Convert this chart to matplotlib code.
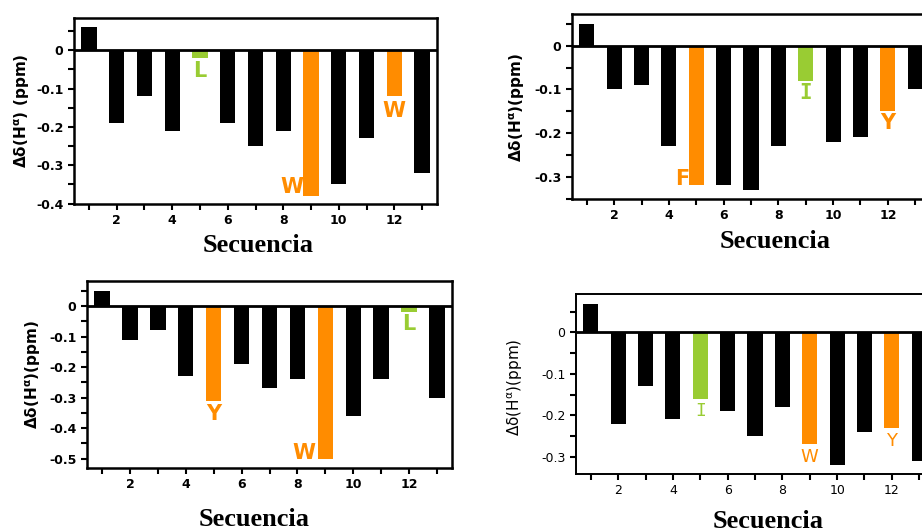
import numpy as np
import matplotlib
matplotlib.use("Agg")
import matplotlib.pyplot as plt
from matplotlib.ticker import MultipleLocator

plt.rcParams['axes.unicode_minus'] = False
plt.rcParams['mathtext.default'] = 'regular'

seq = np.arange(1, 14)

# chemical shift differences, one array per panel
shift_a = [0.06, -0.19, -0.12, -0.21, -0.02, -0.19, -0.25, -0.21, -0.38, -0.35, -0.23, -0.12, -0.32]
shift_b = [0.05, -0.10, -0.09, -0.23, -0.32, -0.32, -0.33, -0.23, -0.08, -0.22, -0.21, -0.15, -0.10]
shift_c = [0.05, -0.11, -0.08, -0.23, -0.31, -0.19, -0.27, -0.24, -0.50, -0.36, -0.24, -0.02, -0.30]
shift_d = [0.07, -0.22, -0.13, -0.21, -0.16, -0.19, -0.25, -0.18, -0.27, -0.32, -0.24, -0.23, -0.31]

# highlighted residues: position -> (letter, colour kind, label x, label baseline y)
marks_a = {5: ('L', 'g', 5, -0.071), 9: ('W', 'o', 8.3, -0.373), 12: ('W', 'o', 12, -0.174)}
marks_b = {5: ('F', 'o', 4.47, -0.320), 9: ('I', 'g', 9, -0.122), 12: ('Y', 'o', 12, -0.191)}
marks_c = {5: ('Y', 'o', 5, -0.374), 9: ('W', 'o', 8.23, -0.501), 12: ('L', 'g', 12, -0.079)}
marks_d = {5: ('I', 'g', 5, -0.202), 9: ('W', 'o', 9, -0.314), 12: ('Y', 'o', 12, -0.274)}

colors = {'k': '#000000', 'o': '#FF8C00', 'g': '#99CC33'}

W, H = 922, 532
fig = plt.figure(figsize=(W / 100, H / 100), dpi=100)


def px_axes(l, r, t, b):
    return fig.add_axes([l / W, 1 - b / H, (r - l) / W, (b - t) / H])


panels = [
    dict(data=shift_a, marks=marks_a, box=(74, 437, 18, 204), ylim=(-0.401, 0.084),
         ylab='Δδ(H$^{α}$) (ppm)', ylab_xy=(22, 111), sec_xy=(258, 246), bold=True),
    dict(data=shift_b, marks=marks_b, box=(572, 930, 14, 199), ylim=(-0.351, 0.0725),
         ylab='Δδ(H$^{α}$)(ppm)', ylab_xy=(517, 107), sec_xy=(775, 242), bold=True),
    dict(data=shift_c, marks=marks_c, box=(87, 452, 281, 468), ylim=(-0.531, 0.082),
         ylab='Δδ(H$^{α}$)(ppm)', ylab_xy=(33, 374), sec_xy=(254, 519), bold=True),
    dict(data=shift_d, marks=marks_d, box=(576, 934, 294, 474), ylim=(-0.342, 0.093),
         ylab='Δδ(H$^{α}$)(ppm)', ylab_xy=(515, 387), sec_xy=(768, 521), bold=False),
]

for p in panels:
    ax = px_axes(*p['box'])
    weight = 'bold' if p['bold'] else 'normal'
    letter_size = 15 if p['bold'] else 13
    cols = [colors['k']] * len(seq)
    for pos, (letter, kind, lx, ly) in p['marks'].items():
        cols[pos - 1] = colors[kind]
    ax.bar(seq, p['data'], width=0.55, color=cols, zorder=2)
    ax.axhline(0, color='black', lw=2, zorder=3)
    for pos, (letter, kind, lx, ly) in p['marks'].items():
        fam = 'DejaVu Sans Mono' if letter == 'I' else 'DejaVu Sans'
        ax.text(lx, ly, letter, color=colors[kind], fontsize=letter_size, fontweight=weight,
                family=fam, ha='center', va='baseline')
    ax.set_xlim(0.46, 13.54)
    ax.set_ylim(*p['ylim'])
    ax.xaxis.set_major_locator(MultipleLocator(2))
    ax.xaxis.set_minor_locator(MultipleLocator(1))
    ax.yaxis.set_major_locator(MultipleLocator(0.1))
    ax.yaxis.set_minor_locator(MultipleLocator(0.05))
    ax.yaxis.set_major_formatter(lambda v, pos: '0' if abs(v) < 1e-9 else f'{v:.1f}')
    ax.tick_params(which='both', direction='out', length=4, width=1.5)
    ax.tick_params(labelsize=9)
    for lab in ax.get_xticklabels() + ax.get_yticklabels():
        lab.set_fontweight(weight)
    for s in ax.spines.values():
        s.set_linewidth(1.8 if p['bold'] else 1.4)
    fig.text(p['ylab_xy'][0] / W, 1 - p['ylab_xy'][1] / H, p['ylab'], rotation=90,
             ha='center', va='center', fontsize=11, fontweight=weight)
    fig.text(p['sec_xy'][0] / W, 1 - p['sec_xy'][1] / H, 'Secuencia',
             ha='center', va='center', fontsize=19, fontweight='bold',
             family='Liberation Serif')

fig.savefig('out.png', dpi=100)
